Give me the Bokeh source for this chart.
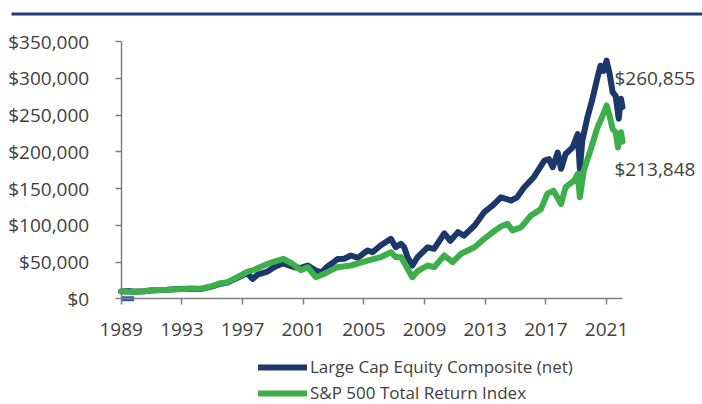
from bokeh.plotting import figure
from bokeh.models import Range1d, Legend, LegendItem, Label, NumeralTickFormatter, BoxAnnotation
from bokeh.embed import file_html
from bokeh.resources import INLINE

# ---- data (growth of $10,000) ----
comp_years = [1989.0, 1989.5, 1989.85, 1990.5, 1991.0, 1991.6, 1992.05, 1992.7, 1993.6, 1994.24,
              1994.9, 1995.56, 1996.0, 1996.66, 1997.3, 1997.66, 1998.0, 1998.64, 1999.0, 1999.5,
              1999.7, 2000.4, 2000.84, 2001.3, 2001.83, 2002.2, 2002.6, 2003.0, 2003.26, 2003.7,
              2004.14, 2004.6, 2005.24, 2005.57, 2006.1, 2006.78, 2007.1, 2007.44, 2007.66, 2007.88,
              2008.2, 2008.54, 2009.2, 2009.63, 2010.3, 2010.7, 2011.2, 2011.6, 2012.3, 2012.93,
              2013.5, 2014.03, 2014.7, 2015.1, 2015.57, 2016.2, 2016.9, 2017.2, 2017.45, 2017.78,
              2018.0, 2018.3, 2018.76, 2019.1, 2019.24, 2019.4, 2019.74, 2020.07, 2020.4, 2020.6,
              2020.8, 2021.0, 2021.2, 2021.4, 2021.6, 2021.8, 2021.95, 2022.05]
comp_values = [10000, 10500, 9600, 10300, 11200, 12000, 12200, 13200, 13600, 13400,
               16200, 20500, 22000, 28500, 35000, 27000, 33000, 37000, 42000, 47000,
               48000, 43000, 42000, 45300, 38500, 36000, 44000, 49800, 54000, 54400,
               58900, 55800, 65700, 63400, 72500, 81600, 70200, 74800, 70000, 56600,
               45300, 56600, 70000, 68000, 89000, 79000, 90600, 86000, 99700, 117800,
               127000, 138000, 133700, 138000, 151800, 165400, 188000, 190000, 179000, 199000,
               176800, 197000, 206000, 224000, 176800, 215000, 247000, 272000, 301000, 317000,
               310000, 324000, 306000, 281000, 276000, 245000, 272000, 260855]

sp_years = [1989.0, 1989.85, 1990.5, 1991.0, 1992.05, 1992.7, 1993.6, 1994.24, 1994.9, 1995.56,
            1996.0, 1996.66, 1997.3, 1997.76, 1998.4, 1998.64, 1999.3, 1999.7, 2000.3, 2000.84,
            2001.3, 2001.83, 2002.16, 2002.6, 2003.26, 2004.14, 2005.24, 2006.1, 2006.78, 2007.1,
            2007.44, 2007.88, 2008.2, 2008.54, 2009.2, 2009.63, 2010.3, 2010.85, 2011.4, 2012.3,
            2012.93, 2013.5, 2014.03, 2014.47, 2014.8, 2015.37, 2016.0, 2016.67, 2017.1, 2017.5,
            2018.0, 2018.3, 2018.87, 2019.1, 2019.24, 2019.5, 2019.93, 2020.4, 2020.7, 2021.0,
            2021.2, 2021.4, 2021.6, 2021.75, 2021.95, 2022.05]
sp_values = [10000, 9500, 10300, 11500, 12200, 13000, 13600, 13600, 16700, 21200,
             22600, 29400, 36500, 39500, 45300, 47600, 52000, 54400, 47600, 39000,
             43000, 29400, 32000, 36200, 43000, 45300, 52000, 56600, 63400, 56600,
             57000, 40800, 29400, 37600, 45300, 43000, 58900, 49800, 61200, 70200,
             81600, 90600, 98300, 102000, 93000, 97400, 113000, 122000, 143000, 147000,
             129000, 152000, 161000, 170000, 138000, 174500, 201700, 233000, 247000, 263000,
             249000, 231000, 226600, 206000, 226600, 213848]

base_years = [1989.0, 1989.85]
base_values = [0, 0]

series_names = ["Large Cap Equity Composite (net)", "S&P 500 Total Return Index"]
x_ticks = [1989, 1993, 1997, 2001, 2005, 2009, 2013, 2017, 2021]
y_ticks = [0, 50000, 100000, 150000, 200000, 250000, 300000, 350000]

BLUE = "#1c3769"
GREEN = "#3cae4a"
TXT = "#404040"
FONT = "Open Sans"

# layout geometry (pixels): plot area of the reference
W, H = 702, 404
X0_PX, X1_PX = 120.7, 622.0      # 1989 .. last date
Y0_PX, Y1_PX = 298.3, 41.0       # $0 .. $350,000
x_per_px = (comp_years[-1] - x_ticks[0]) / (X1_PX - X0_PX)
y_per_px = (y_ticks[-1] - y_ticks[0]) / (Y0_PX - Y1_PX)
x_range = Range1d(x_ticks[0] - X0_PX * x_per_px, x_ticks[0] + (W - X0_PX) * x_per_px)
y_range = Range1d(y_ticks[0] - (H - Y0_PX) * y_per_px, y_ticks[-1] + Y1_PX * y_per_px)

p = figure(width=W, height=H, output_backend="svg", toolbar_location=None,
           x_range=x_range, y_range=y_range,
           min_border_left=0, min_border_right=0, min_border_top=0, min_border_bottom=0)
p.outline_line_color = None
p.xgrid.visible = False
p.ygrid.visible = False
p.background_fill_color = "white"
p.border_fill_color = "white"

p.line(base_years, base_values, line_color="#2a5caa", line_width=5)
r1 = p.line(comp_years, comp_values, line_color=BLUE, line_width=6, line_join="round", line_cap="round")
r2 = p.line(sp_years, sp_values, line_color=GREEN, line_width=6, line_join="round", line_cap="round")

for ax in (p.xaxis[0], p.yaxis[0]):
    ax.axis_line_color = "#808080"
    ax.axis_line_width = 1.5
    ax.major_tick_line_color = "#808080"
    ax.major_tick_line_width = 1.5
    ax.major_tick_out = 6
    ax.major_tick_in = 0
    ax.minor_tick_line_color = None
    ax.major_label_text_font = FONT
    ax.major_label_text_font_size = "19px"
    ax.major_label_text_color = TXT

p.xaxis.ticker = x_ticks
p.xaxis.fixed_location = y_ticks[0]
p.xaxis.bounds = (comp_years[0], comp_years[-1])
p.xaxis.major_label_overrides = {t: str(t) for t in x_ticks}
p.xaxis.major_label_standoff = 18
p.yaxis.ticker = y_ticks
p.yaxis.fixed_location = x_ticks[0]
p.yaxis.bounds = (y_ticks[0], y_ticks[-1])
p.yaxis.formatter = NumeralTickFormatter(format="$0,0")
p.yaxis.major_label_standoff = 26

# end-value labels
for yrs, vals, dy in ((comp_years, comp_values, 29), (sp_years, sp_values, -27)):
    p.add_layout(Label(x=yrs[-1], y=vals[-1], text=f"${vals[-1]:,.0f}", x_offset=-8, y_offset=dy,
                       text_baseline="middle", text_font=FONT, text_font_size="19px",
                       text_color=TXT))

legend = Legend(items=[LegendItem(label=series_names[0], renderers=[r1]),
                       LegendItem(label=series_names[1], renderers=[r2])],
                location=(258, 0), orientation="vertical",
                glyph_width=49, glyph_height=16, label_height=16, label_standoff=3,
                spacing=3, padding=0, margin=0,
                border_line_color=None, background_fill_alpha=0,
                label_text_font=FONT, label_text_font_size="17px", label_text_color=TXT)
p.add_layout(legend)

# top rule
p.add_layout(BoxAnnotation(left=11, right=W, top=12, bottom=15,
                           left_units="canvas", right_units="canvas",
                           top_units="canvas", bottom_units="canvas",
                           fill_color="#1f3b70", fill_alpha=1, line_color=None))

open("out.html", "w").write(file_html(p, INLINE))
